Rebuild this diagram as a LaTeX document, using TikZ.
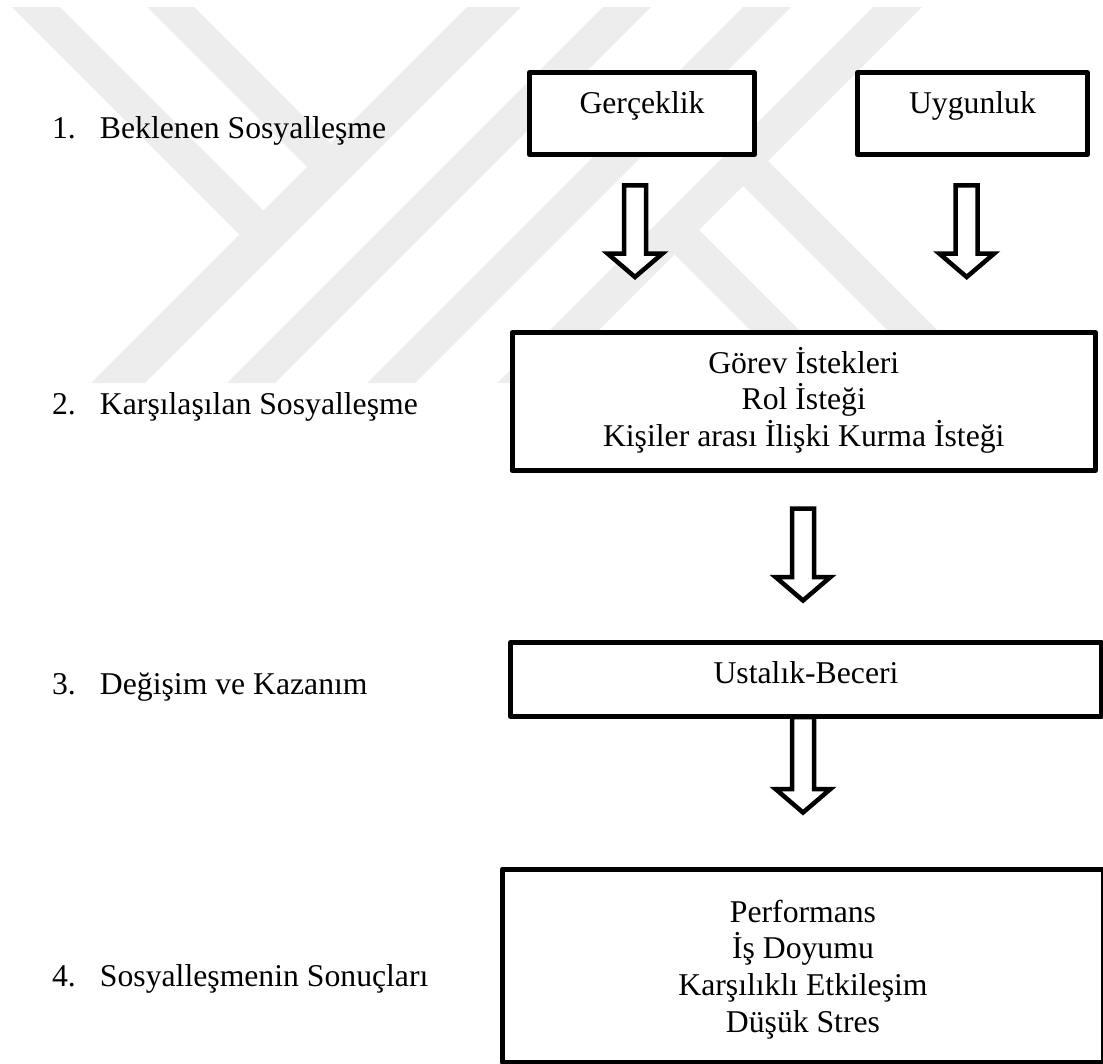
\documentclass[tikz,border=0pt]{standalone}
\usepackage{fontspec}
\setmainfont{Liberation Serif}
\usetikzlibrary{calc}

\definecolor{wmgrey}{gray}{0.93}
\newcommand\bodyfont{\fontsize{31.7}{36.7}\selectfont}

\tikzset{
  box/.style={draw=black, line width=5pt, fill=white, inner sep=0pt,
    outer sep=0pt, line join=round, anchor=base, font=\bodyfont},
  barrow/.style={draw=black, line width=4.5pt, fill=white, line join=miter},
  lbl/.style={inner sep=0pt, outer sep=0pt, anchor=base west, font=\bodyfont},
  band/.style={fill=wmgrey, draw=none}
}

% hollow block arrow from a top-centre point #1 down to a tip point #2
\newcommand\blockarrow[2]{%
  \path[barrow] let \p1=(#1), \p2=(#2) in
    (\x1-11pt,\y1) -- (\x1+11pt,\y1) -- (\x1+11pt,\y2+23.5pt)
    -- (\x1+27.5pt,\y2+23.5pt) -- (\x1,\y2) -- (\x1-27.5pt,\y2+23.5pt)
    -- (\x1-11pt,\y2+23.5pt) -- cycle;}

\begin{document}
\begin{tikzpicture}[x=1pt, y=-1pt]
\useasboundingbox (0,0) rectangle (1103,1063);

% faint background emblem
\begin{scope}
  \clip (0,7) rectangle (1103,383);
  \fill[band] (467,7) -- (521,7) -- (145,383) -- (91,383) -- cycle;
  \fill[band] (603,7) -- (651,7) -- (275,383) -- (227,383) -- cycle;
  \fill[band] (743,7) -- (791,7) -- (415,383) -- (367,383) -- cycle;
  \fill[band] (873,7) -- (922,7) -- (546,383) -- (497,383) -- cycle;
  \fill[band] (12,7) -- (60,7) -- (265.5,212.5) -- (241.5,236.5) -- cycle;
  \fill[band] (147,7) -- (194,7) -- (332.5,145.5) -- (309,169) -- cycle;
  \fill[band] (652,232) -- (676.5,207.5) -- (852,383) -- (803,383) -- cycle;
  \fill[band] (720.5,163.5) -- (745.5,138.5) -- (990,383) -- (940,383) -- cycle;
\end{scope}

% stage labels
\node[lbl] (l1) at (52,138) {\makebox[48pt][l]{1.}Beklenen Sosyalleşme};
\node[lbl] (l2) at (52,414) {\makebox[48pt][l]{2.}Karşılaşılan Sosyalleşme};
\node[lbl] (l3) at (52,694) {\makebox[48pt][l]{3.}Değişim ve Kazanım};
\node[lbl] (l4) at (52,986) {\makebox[48pt][l]{4.}Sosyalleşmenin Sonuçları};

% boxes
\node[box, minimum width=225pt, text height=40.5pt, text depth=41.5pt]
  (g) at (642,113) {Gerçeklik};
\node[box, minimum width=230pt, text height=40.5pt, text depth=41.5pt]
  (u) at (972.5,113) {Uygunluk};
\node[box, minimum width=583.5pt, text height=40.5pt, text depth=97.5pt]
  (b2) at (803.75,373)
  {\parbox[t]{560pt}{\centering Görev İstekleri\\Rol İsteği\\Kişiler arası İlişki Kurma İsteği}};
\node[box, minimum width=591pt, text height=40.5pt, text depth=33.5pt]
  (b3) at (806,683) {Ustalık-Beceri};
\node[box, minimum width=601pt, text height=53pt, text depth=140pt]
  (b4) at (803,922)
  {\parbox[t]{560pt}{\centering Performans\\İş Doyumu\\Karşılıklı Etkileşim\\Düşük Stres}};

% arrow end points
\coordinate (a1s) at ($(g.south)+(-7,30.8)$);
\coordinate (a1e) at ($(a1s |- b2.north)+(0,-55.5)$);
\coordinate (a2s) at ($(u.south)+(-5.8,30.8)$);
\coordinate (a2e) at ($(a2s |- b2.north)+(0,-55.5)$);
\coordinate (a3s) at ($(b2.south)+(-0.75,38.2)$);
\coordinate (a3e) at ($(a3s |- b3.north)+(0,-42)$);
\coordinate (a4s) at ($(b3.south)+(-3,0.5)$);
\coordinate (a4e) at ($(a4s |- b4.north)+(0,-56.5)$);

\blockarrow{a1s}{a1e}
\blockarrow{a2s}{a2e}
\blockarrow{a3s}{a3e}
\blockarrow{a4s}{a4e}
\end{tikzpicture}
\end{document}
